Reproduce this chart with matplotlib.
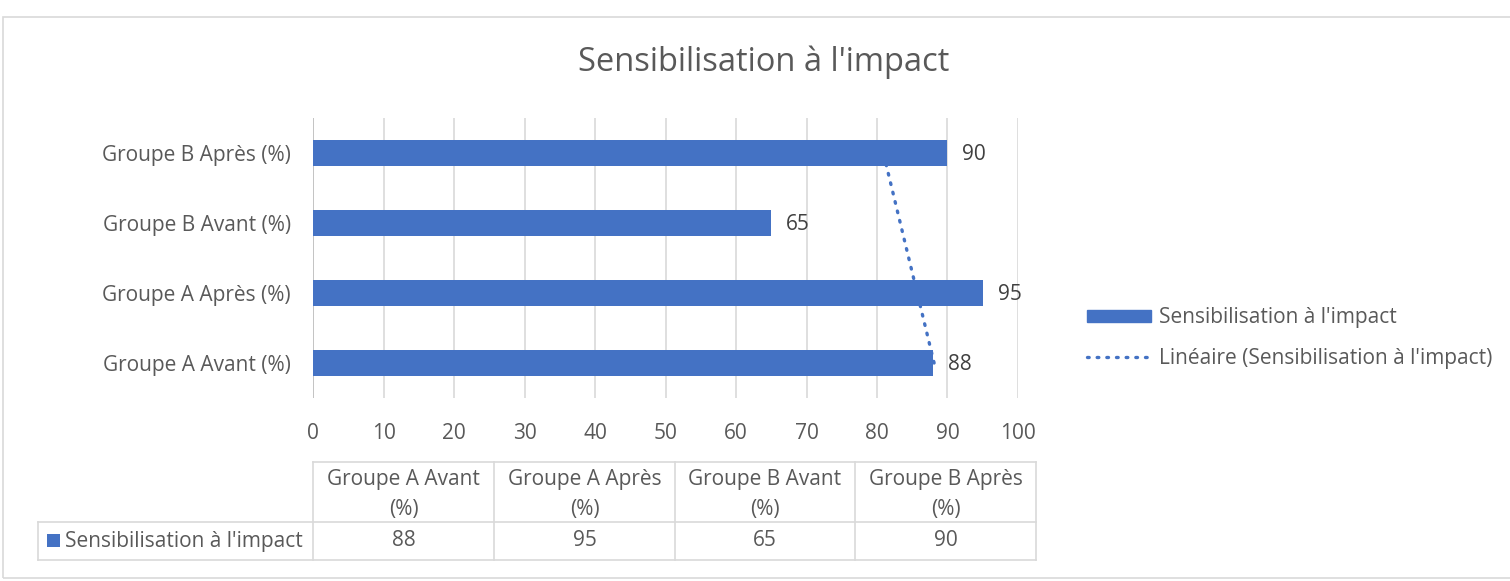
import numpy as np
import matplotlib.pyplot as plt
from matplotlib.patches import Rectangle, Patch
from matplotlib.lines import Line2D

plt.rcParams['font.family'] = ['Open Sans', 'DejaVu Sans']

# data
categories = ['Groupe A Avant (%)', 'Groupe A Après (%)', 'Groupe B Avant (%)', 'Groupe B Après (%)']
values = [88, 95, 65, 90]
series_name = "Sensibilisation à l'impact"
title = "Sensibilisation à l'impact"
xticks = [0, 10, 20, 30, 40, 50, 60, 70, 80, 90, 100]

blue = '#4472C4'
txt = '#595959'
grid = '#d9d9d9'
fs = 15

W, H = 1510, 581
fig = plt.figure(figsize=(W / 100, H / 100), dpi=100)

def fx(x):
    return x / W

def fy(y):
    return 1 - y / H

# outer chart border
fig.patches.append(Rectangle((fx(3), fy(578)), fx(1510), 561 / H, transform=fig.transFigure,
                             fill=False, edgecolor='#d9d9d9', linewidth=1.2))

ax = fig.add_axes([fx(313), fy(398), fx(1018) - fx(313), (398 - 118) / H])
ypos = np.arange(len(categories))
ax.barh(ypos, values, height=0.36, color=blue, zorder=3)
for y, v in zip(ypos, values):
    ax.text(v + 2.1, y - 0.02, str(v), va='center', ha='left', fontsize=fs, color='#404040')

# linear trendline through the series
coef = np.polyfit(ypos + 1, values, 1)
trend = np.polyval(coef, ypos + 1)
ax.plot(trend, ypos, linestyle=(0, (0.5, 2.4)), dash_capstyle='round', color=blue, lw=2.4, zorder=4)

ax.set_xlim(0, 100)
ax.set_ylim(-0.5, len(categories) - 0.5)
ax.set_xticks(xticks)
ax.set_yticks(ypos)
ax.set_yticklabels(categories)
ax.tick_params(axis='both', length=0, labelsize=fs, labelcolor=txt)
ax.tick_params(axis='x', pad=18)
ax.tick_params(axis='y', pad=16)
ax.grid(axis='x', color=grid, lw=1.2, zorder=0)
for s in ax.spines.values():
    s.set_visible(False)
ax.axvline(0, color='#bfbfbf', lw=1.2, zorder=2)

fig.text(fx(764), fy(62), title, ha='center', va='center', fontsize=23.5, color=txt)

# legend
handles = [Patch(facecolor=blue, edgecolor=blue),
           Line2D([0], [0], color=blue, lw=2.4, linestyle=(0, (0.5, 2.4)), dash_capstyle='round')]
labels = [series_name, 'Linéaire (' + series_name + ')']
fig.legend(handles, labels, loc='center left', bbox_to_anchor=(fx(1068), fy(338)), frameon=False,
           fontsize=fs, labelcolor=txt, handlelength=3.1, handleheight=0.5, handletextpad=0.35,
           labelspacing=0.95)

# data table below the axis
col_x = [38, 313, 494, 675, 855, 1036]
row_y = [462, 522, 560]
for x in col_x[1:]:
    fig.add_artist(Line2D([fx(x), fx(x)], [fy(row_y[0]), fy(row_y[2])], color=grid, lw=1.2))
fig.add_artist(Line2D([fx(col_x[0]), fx(col_x[0])], [fy(row_y[1]), fy(row_y[2])], color=grid, lw=1.2))
fig.add_artist(Line2D([fx(col_x[1]), fx(col_x[-1])], [fy(row_y[0]), fy(row_y[0])], color=grid, lw=1.2))
for y in row_y[1:]:
    fig.add_artist(Line2D([fx(col_x[0]), fx(col_x[-1])], [fy(y), fy(y)], color=grid, lw=1.2))

for i, (c, v) in enumerate(zip(categories, values)):
    cx = (col_x[i + 1] + col_x[i + 2]) / 2
    head = c.replace(' (%)', '\n(%)')
    fig.text(fx(cx), fy((row_y[0] + row_y[1]) / 2 + 2.5), head, ha='center', va='center', fontsize=fs,
             color=txt, linespacing=1.6)
    fig.text(fx(cx), fy((row_y[1] + row_y[2]) / 2), str(v), ha='center', va='center', fontsize=fs,
             color=txt)

fig.patches.append(Rectangle((fx(47), fy(547)), fx(13), 13 / H, transform=fig.transFigure,
                             facecolor=blue, edgecolor='none'))
fig.text(fx(65), fy(541), series_name, ha='left', va='center', fontsize=fs, color=txt)

fig.savefig('out.png', dpi=100)
